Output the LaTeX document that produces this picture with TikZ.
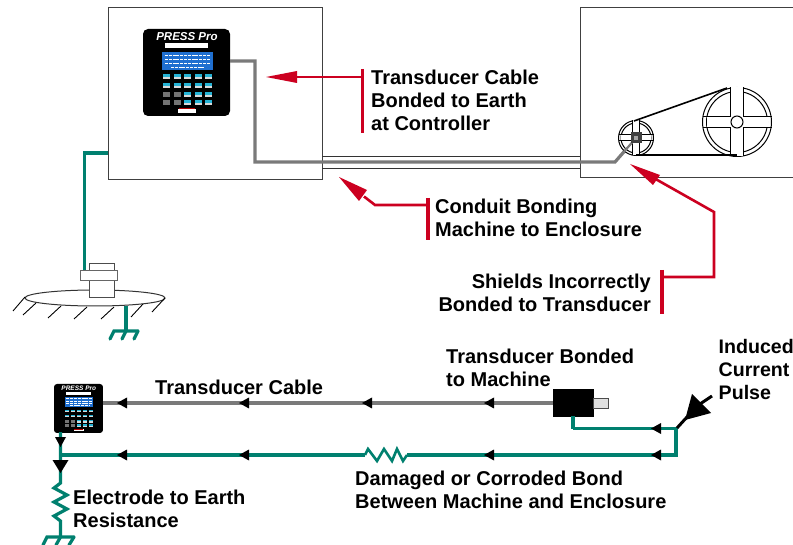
\documentclass[tikz,border=0pt]{standalone}
\usepackage{fontspec}
\setmainfont{Liberation Sans}
\usetikzlibrary{calc}
\definecolor{wire}{HTML}{00806F}
\definecolor{callout}{HTML}{CC0020}
\definecolor{cablegray}{HTML}{7A7A7A}
\definecolor{lcdblue}{HTML}{1F6FD0}
\definecolor{keycyan}{HTML}{25B4D6}
\tikzset{
  panel/.style={draw=black!75,line width=1pt},
  thinline/.style={draw=black!80,line width=1pt},
  cablew/.style={draw=cablegray,line width=3.2pt},
  wirew/.style={draw=wire,line width=3.2pt},
  redw/.style={draw=callout,line width=2.6pt},
  redbar/.style={draw=callout,line width=3.4pt},
  lab/.style={font=\bfseries\fontsize{20}{23}\selectfont,inner sep=0pt,text=black,align=left,anchor=west},
  labr/.style={font=\bfseries\fontsize{20}{23}\selectfont,inner sep=0pt,text=black,align=right,anchor=east},
  mach/.style={draw=black,line width=1pt},
  hatch/.style={draw=black,line width=0.9pt},
}
\newcommand{\tipL}[2]{\fill[black] (#1,#2) -- ++(10,-5.5) -- ++(0,11) -- cycle;}
\newcommand{\controller}[5]{%
\begin{scope}[shift={(#1,#2)},scale=#3]
  \fill[black,rounded corners=#4pt] (0,0) rectangle (87,87);
  \node[font=\bfseries\itshape\fontsize{#5}{#5}\selectfont,text=white,inner sep=0pt] (#1ctitle) at (44,8) {PRESS Pro};
  \fill[white] (22,14.5) rectangle (65,19);
  \fill[lcdblue] (19,23) rectangle (70,41);
  \foreach \r/\a/\b in {26/22/67,30/22/67,34/22/67,38/28/62}{
    \draw[white,line width=0.6pt,dash pattern=on 3pt off 0.8pt] (\a,\r) -- (\b,\r);}
  \foreach \cx in {23,34,44,55,65}{\foreach \cy in {48,57,66,74}{
    \fill[keycyan] ($(\cx,\cy)+(-3.5,-2.5)$) rectangle ($(\cx,\cy)+(3.5,0)$);
    \fill[white!85!black] ($(\cx,\cy)+(-3.5,0)$) rectangle ($(\cx,\cy)+(3.5,2.5)$);}}
  \foreach \cx in {23,34}{\foreach \cy in {66,74}{
    \fill[black!55] ($(\cx,\cy)+(-3.5,-2.5)$) rectangle ($(\cx,\cy)+(3.5,2.5)$);}}
  \fill[white] (35,80.5) rectangle (53,84);
  \fill[red!70!black] (36,79.5) rectangle (52,80.5);
\end{scope}}
\begin{document}
\begin{tikzpicture}[x=1pt,y=-1pt]
\useasboundingbox (0,0) rectangle (793,545);
\fill[white] (0,0) rectangle (793,545);

\coordinate (pA1) at (108,8); \coordinate (pA2) at (322,180);
\coordinate (pB1) at (793,8); \coordinate (pB2) at (580,8);
\coordinate (pB3) at (580,178); \coordinate (pB4) at (793,178);
\coordinate (smallC) at (636,138); \coordinate (bigC) at (737,122);

\draw[panel] (pA1) rectangle (pA2);
\draw[panel] (pB1) -- (pB2) -- (pB3) -- (pB4);
\coordinate (c1a) at (322,157); \coordinate (c1b) at (580,157);
\coordinate (c2a) at (322,169); \coordinate (c2b) at (580,169);
\draw[thinline] (c1a) -- (c1b);
\draw[thinline] (c2a) -- (c2b);

\controller{143}{29}{1}{5}{11.5}

\coordinate (cabS) at (230,61); \coordinate (cabK1) at (255,61);
\coordinate (cabK2) at (255,162); \coordinate (cabK3) at (615,162);
\draw[cablew] (cabS) -- (cabK1) -- (cabK2) -- (cabK3) -- (smallC);

\foreach \c/\ro/\ri/\bw/\bh in {smallC/17.5/15/7/6,bigC/34.5/30.5/13/11}{
  \begin{scope}
    \draw[mach,fill=white] (\c) circle (\ro);
    \draw[mach] (\c) circle (\ri);
    \fill[white] ($(\c)+(-\ri,-\bh/2)$) rectangle ($(\c)+(\ri,\bh/2)$);
    \fill[white] ($(\c)+(-\bw/2,-\ro)$) rectangle ($(\c)+(\bw/2,\ro)$);
    \draw[mach] ($(\c)+(-\ro,-\bh/2)$) -- ($(\c)+(-\bw/2,-\bh/2)$) -- ($(\c)+(-\bw/2,-\ro)$);
    \draw[mach] ($(\c)+(\ro,-\bh/2)$) -- ($(\c)+(\bw/2,-\bh/2)$) -- ($(\c)+(\bw/2,-\ro)$);
    \draw[mach] ($(\c)+(-\ro,\bh/2)$) -- ($(\c)+(-\bw/2,\bh/2)$) -- ($(\c)+(-\bw/2,\ro)$);
    \draw[mach] ($(\c)+(\ro,\bh/2)$) -- ($(\c)+(\bw/2,\bh/2)$) -- ($(\c)+(\bw/2,\ro)$);
  \end{scope}}
\draw[mach,fill=white] (bigC) circle (6);
\coordinate (b1) at (634,121); \coordinate (b2) at (727,88);
\coordinate (b3) at (636,155.5); \coordinate (b4) at (737,155.5);
\draw[black,line width=1.6pt] (b1) -- (b2);
\draw[black,line width=2pt] (b3) -- (b4);
\draw[cablew,line width=2.2pt] (cabK3) -- (smallC);
\fill[black!75] ($(smallC)+(-5.5,-5.5)$) rectangle ($(smallC)+(5.5,5.5)$);
\fill[black!35] ($(smallC)+(-2,-2)$) rectangle ($(smallC)+(2,2)$);

\coordinate (r1t) at (266,77); \coordinate (r1b) at (362.5,77);
\coordinate (r1u) at (362.5,69); \coordinate (r1d) at (362.5,133);
\draw[redw] (297,77) -- (r1b);
\fill[callout] (r1t) -- (297,71) -- (297,83) -- cycle;
\draw[redbar] (r1u) -- (r1d);
\node[lab] (l1) at (371,100) {Transducer Cable\\Bonded to Earth\\at Controller};

\coordinate (r2t) at (339,177); \coordinate (r2k) at (375,205);
\coordinate (r2b) at (428,205); \coordinate (r2u) at (428,198); \coordinate (r2d) at (428,240);
\draw[redw] (364,196.5) -- (r2k) -- (r2b);
\fill[callout] (r2t) -- (367,190) -- (359,201) -- cycle;
\draw[redbar] (r2u) -- (r2d);
\node[lab] (l2) at (435,218) {Conduit Bonding\\Machine to Enclosure};

\coordinate (r3t) at (630,164); \coordinate (r3k) at (714,212);
\coordinate (r3j) at (714,277); \coordinate (r3b) at (662,277);
\coordinate (r3u) at (662,270); \coordinate (r3d) at (662,314);
\draw[redw] (652,177) -- (r3k) -- (r3j) -- (r3b);
\fill[callout] (r3t) -- (660,175) -- (653,185) -- cycle;
\draw[redbar] (r3u) -- (r3d);
\node[labr] (l3) at (651,293) {Shields Incorrectly\\Bonded to Transducer};

\coordinate (plate) at (95,298);
\draw[thinline] (plate) ellipse (70 and 8);
\foreach \a/\b/\c/\d in {25/297/13/311,36/303/23/315,61/306/48/318,87/307/74/319,114/307/101/319,143/304/131/317,165/298/152/312}{
  \draw[hatch] (\a,\b) -- (\c,\d);}
\coordinate (gA) at (108,153); \coordinate (gB) at (84.5,153); \coordinate (gC) at (84.5,270);
\draw[wirew] (gA) -- (gB) -- (gC);
\node[draw=black!70,fill=white,line width=1pt,minimum width=25pt,minimum height=8pt,inner sep=0pt,anchor=north west] (postT) at (89,263) {};
\node[draw=black!70,fill=white,line width=1pt,minimum width=25pt,minimum height=18pt,inner sep=0pt,anchor=north west] (postB) at (89,279) {};
\node[draw=black!60,fill=white,line width=1.2pt,minimum width=37pt,minimum height=10pt,inner sep=0pt,anchor=north west] (postF) at (80,270) {};
\coordinate (e1) at (126,306); \coordinate (e2) at (126,331);
\draw[wirew] (e1) -- (e2);
\draw[wirew,line cap=round] (138,331) -- (114,331) -- (110,339);
\draw[wirew,line cap=round] (e2) -- (122,339);
\draw[wirew,line cap=round] (138,331) -- (134,339);

\controller{54}{384}{0.563}{3}{6.5}
\node[lab] (l4) at (155,387) {Transducer Cable};
\node[lab] (l5) at (446,368) {Transducer Bonded\\to Machine};

\node[fill=black,draw=black,minimum width=40pt,minimum height=27pt,inner sep=0pt,anchor=north west] (xd) at (553,389) {};
\node[fill=black!12,draw=black!70,line width=1pt,minimum width=15pt,minimum height=10pt,inner sep=0pt,anchor=north west] (rod) at (593,398) {};

\coordinate (cpL) at (103,403); \coordinate (xdL) at (553,403);
\draw[cablew] (cpL) -- (xdL);
\foreach \x in {117,239,362,484}{\tipL{\x}{403}}

\coordinate (w0) at (573,416); \coordinate (w1) at (573,428.5); \coordinate (w2) at (676,428.5);
\coordinate (w3) at (676,455); \coordinate (w4) at (407,455);
\coordinate (w5) at (365,455); \coordinate (w6) at (60.5,455);
\coordinate (w7) at (60.5,432); \coordinate (w8) at (60.5,480);
\draw[wirew] (w1) -- (w0);
\draw[wirew] (w1) -- (w2) -- (w3) -- (w4);
\draw[wirew,line width=2.6pt] (w4) -- (403,461) -- (397,449) -- (392,461) -- (384,449) -- (377,461) -- (368,449) -- (w5);
\draw[wirew] (w5) -- (w6);
\draw[wirew] (w7) -- (w8) -- (60.5,483) -- (54,488) -- (67,495) -- (54,502) -- (67,509) -- (54,516) -- (60.5,521) -- (60.5,537);
\foreach \x in {117,239,484,651}{\tipL{\x}{455}}
\tipL{651}{428.5}
\fill[black] (60.5,447) -- (55,437) -- (66,437) -- cycle;
\fill[black] (60.5,473) -- (52.5,460) -- (68.5,460) -- cycle;
\draw[wirew,line cap=round] (74,537) -- (47,537) -- (43,545);
\draw[wirew,line cap=round] (60.5,537) -- (56,545);
\draw[wirew,line cap=round] (74,537) -- (69,545);

\coordinate (i0) at (677,428); \coordinate (i1) at (687,417);
\draw[black,line width=3pt] (i0) -- (i1);
\fill[black] (685,420) -- (692,394) -- (711,413) -- cycle;
\draw[black,line width=3pt] (700,404) -- (712,396);

\node[lab,font=\bfseries\fontsize{19.6}{23}\selectfont] (l6) at (718.5,369) {Induced\\Current\\Pulse};
\node[lab] (l7) at (355,490) {Damaged or Corroded Bond\\Between Machine and Enclosure};
\node[lab] (l8) at (73,509) {Electrode to Earth\\Resistance};
\end{tikzpicture}
\end{document}
